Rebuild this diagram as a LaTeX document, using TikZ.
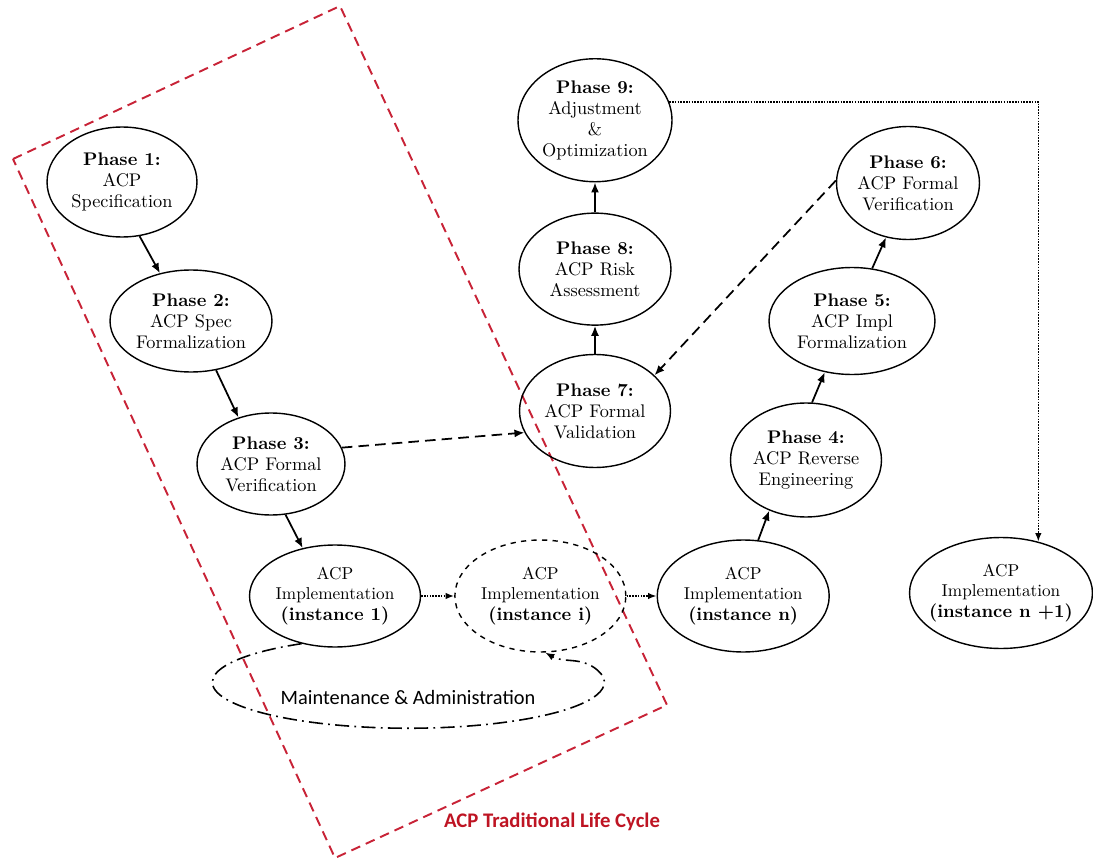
\documentclass[tikz,border=0pt]{standalone}
\usepackage{fontspec}
\usepackage{xcolor}
\newfontfamily\calibrifont{Carlito}
\usetikzlibrary{shapes.geometric, arrows.meta, positioning}
\definecolor{cyclered}{RGB}{200, 35, 55}
\definecolor{labelred}{RGB}{190, 20, 35}

\begin{document}
\begin{tikzpicture}[
          x=0.02cm, y=0.02cm,
          phasebox/.style={ellipse, draw, line width=0.8pt, inner sep=0pt, align=center, font=\fontsize{10.4}{12}\selectfont},
          instbox/.style={phasebox, font=\fontsize{9.8}{11.6}\selectfont},
          arr/.style={-{Latex[length=2mm,width=1.6mm]}, line width=1pt},
          dasharr/.style={arr, dash pattern=on 6pt off 3.5pt},
          dotarr/.style={-{Latex[length=1.7mm,width=1.3mm]}, line width=0.9pt, dash pattern=on 0.9pt off 0.7pt},
          mntline/.style={-{Latex[length=1.8mm,width=1.4mm]}, line width=0.9pt, dash pattern=on 8pt off 3pt on 1pt off 3pt},
          cyclebox/.style={draw=cyclered, line width=1.1pt, dash pattern=on 5.5pt off 3.5pt}
        ]
          \useasboundingbox (0,0) rectangle (1093,-865);

          % traditional life cycle frame
          \draw[cyclebox] (13,-159) -- (340,-6) -- (667,-705) -- (335,-858) -- cycle;
          \node[font=\calibrifont\fontsize{11.8}{14}\selectfont\bfseries, text=labelred] (lclabel) at (552,-822) {ACP Traditional Life Cycle};

          \node[phasebox, minimum width=3cm, minimum height=2.2cm] (ph1) at (122,-182) {\textbf{Phase 1:}\\ACP\\Specification};
          \node[phasebox, minimum width=3.24cm, minimum height=2.04cm] (ph2) at (191,-321) {\textbf{Phase 2:}\\ACP Spec\\Formalization};
          \node[phasebox, minimum width=2.96cm, minimum height=2.04cm] (ph3) at (271,-464) {\textbf{Phase 3:}\\ACP Formal\\Verification};

          \node[instbox, minimum width=3.42cm, minimum height=2.04cm] (inst1) at (335,-596) {ACP\\Implementation\\{\fontsize{10.4}{12}\selectfont\bfseries (instance 1)}};
          \node[instbox, dashed, minimum width=3.42cm, minimum height=2.24cm, right=0.66cm of inst1] (insti) {ACP\\Implementation\\{\fontsize{10.4}{12}\selectfont\bfseries (instance i)}};
          \node[instbox, minimum width=3.44cm, minimum height=2.24cm, right=0.6cm of insti] (instn) {ACP\\Implementation\\{\fontsize{10.4}{12}\selectfont\bfseries (instance n)}};
          \node[instbox, minimum width=3.66cm, minimum height=2.22cm, inner xsep=-6pt] (instn1) at (1001,-593) {ACP\\Implementation\\{\fontsize{10.4}{12}\selectfont\bfseries (instance n +1)}};

          \node[phasebox, minimum width=3.02cm, minimum height=2.28cm] (ph4) at (806,-460) {\textbf{Phase 4:}\\ACP Reverse\\Engineering};
          \node[phasebox, minimum width=3.32cm, minimum height=2.14cm] (ph5) at (852,-321) {\textbf{Phase 5:}\\ACP Impl\\Formalization};
          \node[phasebox, minimum width=2.86cm, minimum height=2.26cm] (ph6) at (908,-183) {\textbf{Phase 6:}\\ACP Formal\\Verification};

          \node[phasebox, minimum width=3.02cm, minimum height=2.26cm] (ph7) at (595,-411) {\textbf{Phase 7:}\\ACP Formal\\Validation};
          \node[phasebox, minimum width=3.04cm, minimum height=2.24cm, above=0.56cm of ph7] (ph8) {\textbf{Phase 8:}\\ACP Risk\\Assessment};
          \node[phasebox, minimum width=3.08cm, minimum height=2.46cm, above=0.6cm of ph8] (ph9) {\textbf{Phase 9:}\\Adjustment\\\&\\Optimization};

          \node[font=\calibrifont\fontsize{11.6}{14}\selectfont] (mnt) at (408,-697) {Maintenance \& Administration};

          \draw[arr] (ph1.-72) -- (ph2.123);
          \draw[arr] (ph2.-63) -- (ph3.125);
          \draw[arr] (ph3.-74) -- (inst1.124);
          \draw[dotarr] (inst1.east) -- (insti.west);
          \draw[dotarr] (insti.east) -- (instn.west);
          \draw[arr] (instn.75) -- (ph4.-126);
          \draw[arr] (ph4.84) -- (ph5.-118);
          \draw[arr] (ph5.69) -- (ph6.-112);
          \draw[dasharr] (ph6.178) -- (ph7.31);
          \draw[dasharr] (ph3.13) -- (ph7.-163);
          \draw[arr] (ph7) -- (ph8);
          \draw[arr] (ph8) -- (ph9);
          \draw[dotarr] (ph9.14) -| (instn1.54);
          \draw[mntline] (inst1.-125) arc[start angle=123, end angle=375, x radius=196, y radius=46] to[out=139, in=-30] (insti.-85);
        \end{tikzpicture}
\end{document}
